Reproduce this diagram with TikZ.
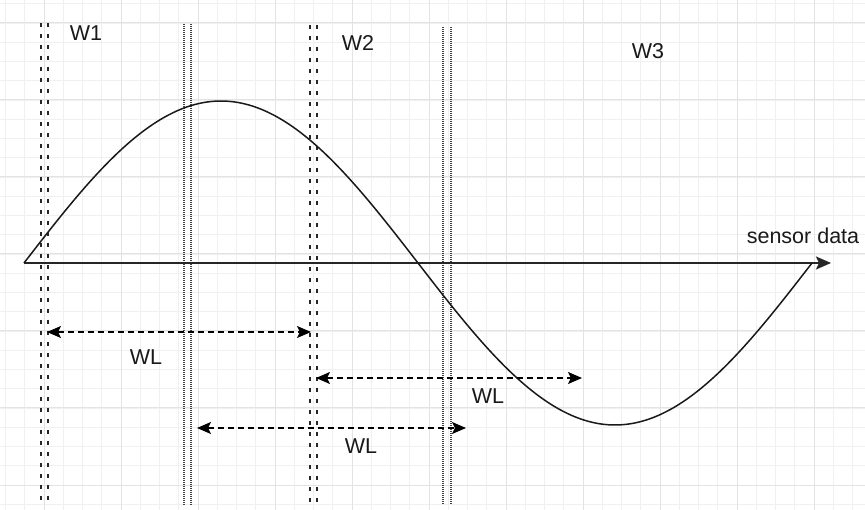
\documentclass[tikz,border=0pt]{standalone}
\usepackage{fontspec}
\setmainfont{Liberation Sans}
\usetikzlibrary{arrows.meta}
\tikzset{
  lbl/.style={font=\fontsize{21.5}{24}\selectfont, text=black!90, inner sep=0pt},
  vdash/.style={draw=black!85, line width=1.4pt, dash pattern=on 4pt off 7pt},
  vdot/.style={draw=black!75, line width=1.3pt, dash pattern=on 1pt off 1pt},
  wl/.style={draw=black, line width=1.3pt, dash pattern=on 6pt off 4pt,
    {Stealth[length=14pt,width=12pt,inset=3pt]}-{Stealth[length=14pt,width=12pt,inset=3pt]}},
  axisline/.style={draw=black!85, line width=1.8pt, -{Stealth[length=15pt,width=13pt,inset=3pt]}},
  wave/.style={draw=black!90, line width=1.5pt},
  minorgrid/.style={draw=black!6, line width=0.8pt},
  majorgrid/.style={draw=black!11, line width=1pt},
}
\begin{document}
\begin{tikzpicture}[x=1pt,y=-1pt]
\useasboundingbox (0,0) rectangle (865,510);
\fill[white] (0,0) rectangle (865,510);
% grid
\foreach \k in {0,...,44}{
  \pgfmathsetmacro\gx{5.5+19.25*\k}
  \draw[minorgrid] (\gx,0) -- (\gx,510);
}
\foreach \j in {0,...,26}{
  \pgfmathsetmacro\gy{3.75+19.25*\j}
  \draw[minorgrid] (0,\gy) -- (865,\gy);
}
\foreach \k in {0,...,11}{
  \pgfmathsetmacro\gx{44+77*\k}
  \draw[majorgrid] (\gx,0) -- (\gx,510);
}
\foreach \j in {0,...,6}{
  \pgfmathsetmacro\gy{23+77*\j}
  \draw[majorgrid] (0,\gy) -- (865,\gy);
}
% window boundaries
\coordinate (a1t) at (41,23);  \coordinate (a1b) at (41,505);
\coordinate (a2t) at (48,23);  \coordinate (a2b) at (48,505);
\coordinate (b1t) at (184,24); \coordinate (b1b) at (184,505);
\coordinate (b2t) at (191,24); \coordinate (b2b) at (191,505);
\coordinate (c1t) at (310,25); \coordinate (c1b) at (310,505);
\coordinate (c2t) at (317,25); \coordinate (c2b) at (317,505);
\coordinate (d1t) at (443,27); \coordinate (d1b) at (443,505);
\coordinate (d2t) at (451,27); \coordinate (d2b) at (451,505);
\draw[vdash] (a1t) -- (a1b);
\draw[vdash] (a2t) -- (a2b);
\draw[vdot] (b1t) -- (b1b);
\draw[vdot] (b2t) -- (b2b);
\draw[vdash] (c1t) -- (c1b);
\draw[vdash] (c2t) -- (c2b);
\draw[vdot] (d1t) -- (d1b);
\draw[vdot] (d2t) -- (d2b);
% axis
\coordinate (o) at (24,263);
\coordinate (xend) at (831,263);
\draw[axisline] (o) -- (xend);
\node[lbl, anchor=center] (sd) at (803,236) {sensor data};
% sine wave
\draw[wave] plot[domain=0:360, samples=120, smooth] ({24+2.18889*\x}, {263-162*sin(\x)});
% window length arrows
\coordinate (p1) at (47,332);  \coordinate (q1) at (311,332);
\coordinate (p2) at (316,378); \coordinate (q2) at (582,378);
\coordinate (p3) at (197,428); \coordinate (q3) at (466,428);
\draw[wl] (p1) -- (q1);
\draw[wl] (p2) -- (q2);
\draw[wl] (p3) -- (q3);
% labels
\node[lbl] (w1) at (86,33) {W1};
\node[lbl] (w2) at (358,43) {W2};
\node[lbl] (w3) at (648,51) {W3};
\node[lbl] (wl1) at (146,357) {WL};
\node[lbl] (wl2) at (488,396) {WL};
\node[lbl] (wl3) at (361,446) {WL};
\end{tikzpicture}
\end{document}
